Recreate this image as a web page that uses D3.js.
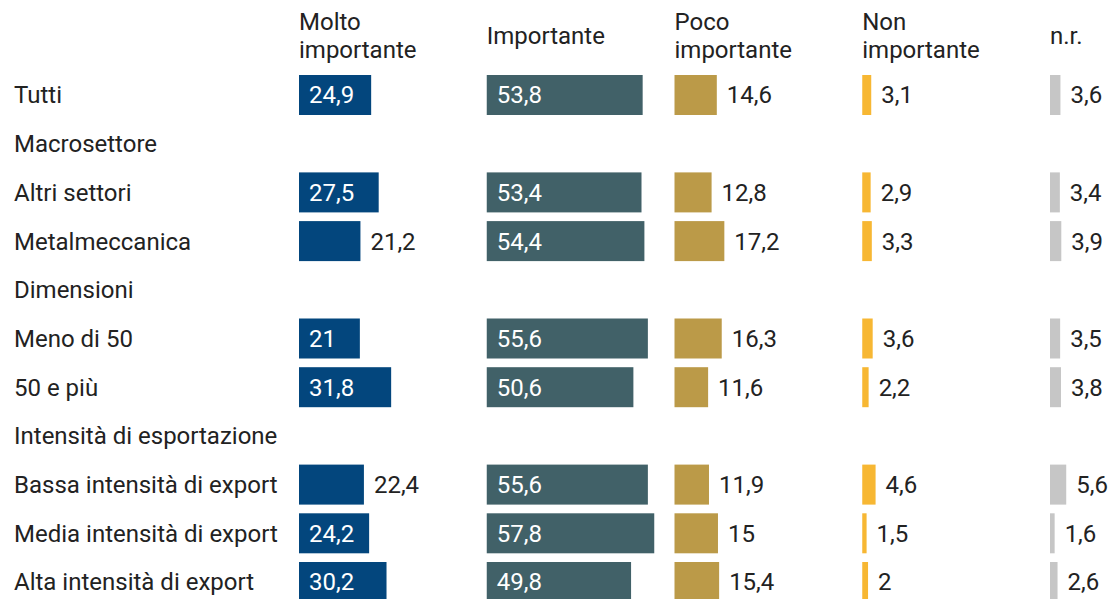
<html>
<head>
<meta charset="utf-8">
<title>Importanza</title>
<style>
  body { margin: 0; background: #fff; }
  text { font-family: Roboto, "Noto Sans", sans-serif; }
</style>
</head>
<body>
<script src="https://cdn.jsdelivr.net/npm/d3@7"></script>
<script>
var width = 1112, height = 599;

var rows = ["Tutti", "Macrosettore", "Altri settori", "Metalmeccanica", "Dimensioni",
            "Meno di 50", "50 e più", "Intensità di esportazione",
            "Bassa intensità di export", "Media intensità di export", "Alta intensità di export"];
var series = ["Molto importante", "Importante", "Poco importante", "Non importante", "n.r."];
var headerLines = [["Molto", "importante"], ["Importante"], ["Poco", "importante"], ["Non", "importante"], ["n.r."]];
var colors = ["#03467d", "#416168", "#bb9a48", "#f7b733", "#c6c6c6"];

var molto      = [24.9, null, 27.5, 21.2, null, 21,   31.8, null, 22.4, 24.2, 30.2];
var importante = [53.8, null, 53.4, 54.4, null, 55.6, 50.6, null, 55.6, 57.8, 49.8];
var poco       = [14.6, null, 12.8, 17.2, null, 16.3, 11.6, null, 11.9, 15,   15.4];
var nonImp     = [3.1,  null, 2.9,  3.3,  null, 3.6,  2.2,  null, 4.6,  1.5,  2];
var nr         = [3.6,  null, 3.4,  3.9,  null, 3.5,  3.8,  null, 5.6,  1.6,  2.6];
var values = [molto, importante, poco, nonImp, nr];

var fs = 24;
var svg = d3.select("body").append("svg")
  .attr("width", width)
  .attr("height", height);

var y = d3.scalePoint().domain(d3.range(rows.length)).range([95, 582]);
var col = d3.scalePoint().domain(series).range([299, 1050]);
var x = d3.scaleLinear().domain([0, 57.8]).range([0, 167.5]);
var barH = 40;
var fmt = function(v){ return String(v).replace(".", ","); };

// etichette righe
svg.selectAll(".lab").data(rows).enter().append("text")
  .attr("x", 14)
  .attr("y", function(d, i){ return y(i); })
  .attr("dy", "0.35em")
  .attr("font-size", fs)
  .attr("fill", "#222")
  .text(function(d){ return d; });

// intestazioni
series.forEach(function(s, k){
  var lines = headerLines[k];
  var t = svg.append("text")
    .attr("x", col(s))
    .attr("font-size", fs)
    .attr("fill", "#222");
  lines.forEach(function(l, j){
    t.append("tspan")
      .attr("x", col(s))
      .attr("y", 36 + (j - (lines.length - 1) / 2) * 28)
      .attr("dy", "0.35em")
      .text(l);
  });
});

// barre
series.forEach(function(s, k){
  var g = svg.append("g").attr("transform", "translate(" + col(s) + ",0)");
  values[k].forEach(function(v, i){
    if (v === null) return;
    var w = x(v);
    g.append("rect")
      .attr("x", 0)
      .attr("y", y(i) - barH / 2)
      .attr("width", w)
      .attr("height", barH)
      .attr("fill", colors[k]);
    var t = g.append("text")
      .attr("y", y(i))
      .attr("dy", "0.35em")
      .attr("font-size", fs)
      .text(fmt(v));
    var tw = t.node().getComputedTextLength();
    if (tw + 20 <= w) {
      t.attr("x", 10).attr("fill", "#fff");
    } else {
      t.attr("x", w + 10).attr("fill", "#222");
    }
  });
});
</script>
</body>
</html>
